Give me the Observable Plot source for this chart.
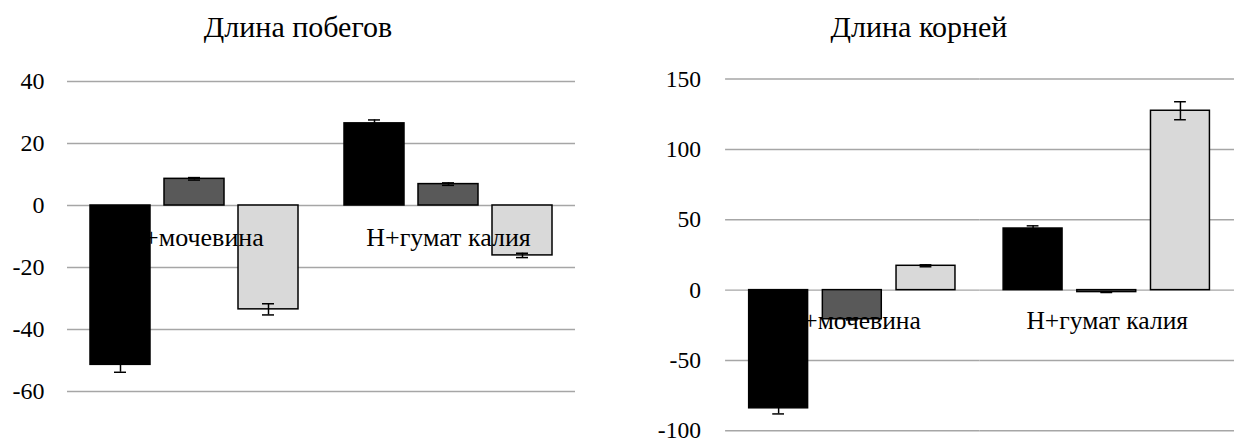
<!DOCTYPE html>
<html>
<head>
<meta charset="utf-8">
<script src="https://cdn.jsdelivr.net/npm/d3@7"></script>
<script src="https://cdn.jsdelivr.net/npm/@observablehq/plot@0.6"></script>
<style>
  html, body { margin: 0; padding: 0; background: #fff; }
  #wrap { position: relative; width: 1234px; height: 448px; overflow: hidden;
          font-family: "Liberation Serif", "Times New Roman", serif; }
  .panel { position: absolute; top: 0; }
  .panel svg { overflow: visible; }
  .title { position: absolute; top: 12px; font-size: 30px; line-height: 30px;
           white-space: nowrap; color: #000; transform: translateX(-50%); z-index: 2; }
</style>
</head>
<body>
<div id="wrap">
  <div class="panel" id="shoots"></div>
  <div class="panel" id="roots"></div>
</div>
<script>
const serifStack = "'Liberation Serif', 'Times New Roman', serif";

// Treatment groups along the x axis
const groups = ["Н+мочевина", "Н+гумат калия"];
// Three measured series within each group
const series = ["s1", "s2", "s3"];
const seriesFill = ["#000000", "#595959", "#d9d9d9"];

// Shoot length change, % (rows: groups, columns: series)
const shootValues = [[-51.4, 8.6, -33.5], [26.5, 6.9, -16.1]];
const shootErrors = [[2.4, 0.4, 1.8], [1.1, 0.4, 0.7]];
const shootTicks = [-60, -40, -20, 0, 20, 40];

// Root length change, %
const rootValues = [[-84, -20.7, 17.3], [43.8, -1.4, 127.5]];
const rootErrors = [[4, 0.5, 0.7], [1.9, 0.3, 6.4]];
const rootTicks = [-100, -50, 0, 50, 100, 150];

function rowsOf(values, errors) {
  return groups.flatMap((g, i) => series.map((s, j) => ({
    group: g, series: s, value: values[i][j], err: errors[i][j]
  })));
}

function groupedBars({values, errors, ticks, width, marginLeft, marginRight, marginTop, marginBottom, padInner, padOuter, tickPadding}) {
  const rows = rowsOf(values, errors);
  return Plot.plot({
    width, height: 448,
    marginLeft, marginRight, marginTop, marginBottom,
    style: { fontFamily: serifStack, fontSize: "24px", color: "#000", background: "#fff", overflow: "visible" },
    fx: { domain: groups, padding: 0, axis: null },
    x: { domain: series, paddingInner: padInner, paddingOuter: padOuter, axis: null },
    y: { domain: [ticks[0], ticks[ticks.length - 1]], ticks, tickFormat: d => String(d),
         tickSize: 0, tickPadding, label: null },
    color: { domain: series, range: seriesFill },
    marks: [
      Plot.ruleY(ticks, { stroke: "#a6a6a6", strokeWidth: 1.5 }),
      Plot.barY(rows, { fx: "group", x: "series", y: "value", fill: "series",
                        stroke: "#000", strokeWidth: 1.5 }),
      // category labels sit just under the zero line, over the bars
      Plot.text(groups, { fx: d => d, y: () => 0, text: d => d, frameAnchor: "middle",
                          lineAnchor: "bottom", dy: 40, fontSize: 26, fill: "#000" }),
      Plot.ruleX(rows, { fx: "group", x: "series", y1: d => d.value - d.err, y2: d => d.value + d.err,
                         stroke: "#000", strokeWidth: 1.5 }),
      Plot.tickY(rows, { fx: "group", x: "series", y: d => d.value + d.err,
                         stroke: "#000", strokeWidth: 1.5, inset: 24 }),
      Plot.tickY(rows, { fx: "group", x: "series", y: d => d.value - d.err,
                         stroke: "#000", strokeWidth: 1.5, inset: 24 })
    ]
  });
}

function panel(id, left, titleText, titleX, svg) {
  const el = document.getElementById(id);
  el.style.left = left + "px";
  const t = document.createElement("div");
  t.className = "title";
  t.style.left = titleX + "px";
  t.textContent = titleText;
  el.appendChild(svg);
  el.appendChild(t);
}

panel("shoots", 0, "Длина побегов", 298, groupedBars({
  values: shootValues, errors: shootErrors, ticks: shootTicks,
  width: 617, marginLeft: 67, marginRight: 42, marginTop: 81, marginBottom: 57,
  padInner: 0.187, padOuter: 0.287, tickPadding: 23
}));

panel("roots", 617, "Длина корней", 302, groupedBars({
  values: rootValues, errors: rootErrors, ticks: rootTicks,
  width: 628, marginLeft: 110, marginRight: 0, marginTop: 80, marginBottom: 10,
  padInner: 0.197, padOuter: 0.303, tickPadding: 25
}));
</script>
</body>
</html>
